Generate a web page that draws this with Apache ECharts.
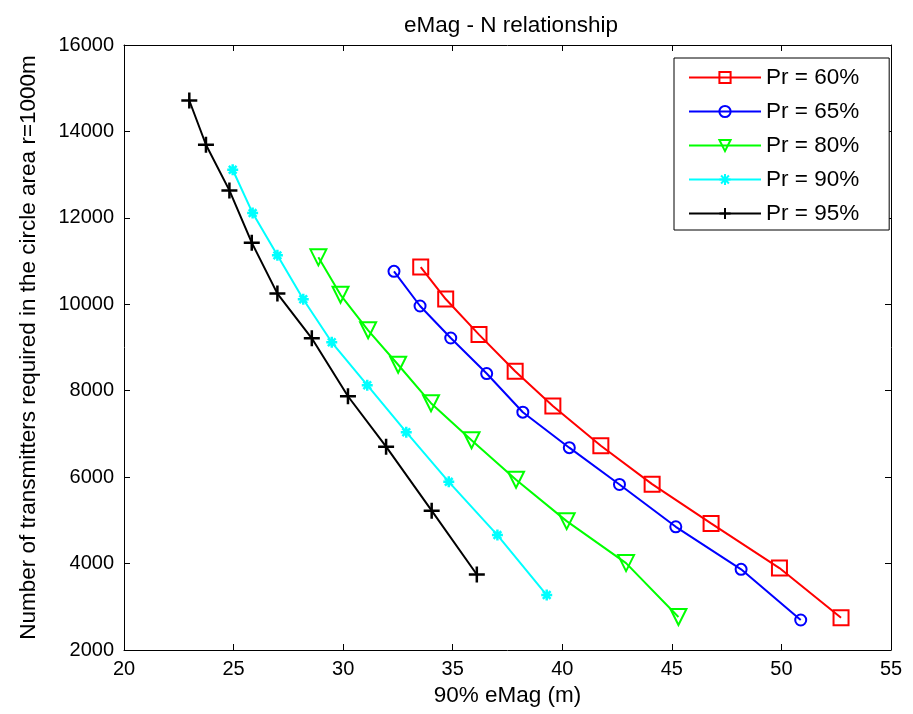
<!DOCTYPE html>
<html>
<head>
<meta charset="utf-8">
<script src="https://cdn.jsdelivr.net/npm/echarts@6/dist/echarts.min.js"></script>
<style>
html,body{margin:0;padding:0;background:#fff;}
#chart{width:913px;height:714px;}
</style>
</head>
<body>
<div id="chart"></div>
<script>
// Data
var seriesNames = ['Pr = 60%', 'Pr = 65%', 'Pr = 80%', 'Pr = 90%', 'Pr = 95%'];

var x60 = [33.54, 34.68, 36.20, 37.85, 39.57, 41.76, 44.10, 46.79, 49.91, 52.72];
var y60 = [10862, 10122, 9299, 8450, 7648, 6728, 5838, 4929, 3896, 2747];

var x65 = [32.32, 33.51, 34.91, 36.55, 38.20, 40.32, 42.61, 45.18, 48.16, 50.88];
var y65 = [10762, 9960, 9220, 8397, 7503, 6682, 5831, 4851, 3866, 2694];

var x80 = [28.87, 29.88, 31.14, 32.51, 34.01, 35.86, 37.89, 40.20, 42.91, 45.30];
var y80 = [11086, 10219, 9398, 8601, 7711, 6855, 5942, 4982, 4011, 2763];

var x90 = [24.96, 25.87, 27.00, 28.18, 29.48, 31.10, 32.88, 34.82, 37.04, 39.29];
var y90 = [13114, 12110, 11132, 10115, 9121, 8127, 7040, 5891, 4659, 3272];

var x95 = [22.98, 23.74, 24.81, 25.83, 27.00, 28.57, 30.22, 31.96, 34.04, 36.10];
var y95 = [14716, 13692, 12635, 11426, 10247, 9213, 7872, 6705, 5225, 3746];

var xTicks = [20, 25, 30, 35, 40, 45, 50, 55];
var yTicks = [2000, 4000, 6000, 8000, 10000, 12000, 14000, 16000];

function pairs(xs, ys) { return xs.map(function (v, i) { return [v, ys[i]]; }); }

var FONT = '"Liberation Sans", Arial, sans-serif';
var symPlus = 'path://M0,-10L0,10M-10,0L10,0';
var symStar = 'path://M0,-10L0,10M-10,0L10,0M-7,-7L7,7M-7,7L7,-7';
var symTriDown = 'path://M-10,-9L10,-9L0,9Z';

function mkSeries(name, data, color, symbol, size, bw) {
  return {
    name: name, type: 'line', data: data, xAxisIndex: 0, yAxisIndex: 0,
    symbol: symbol, symbolSize: size, showAllSymbol: true,
    color: color,
    lineStyle: { color: color, width: 2 },
    itemStyle: { color: 'rgba(0,0,0,0)', borderColor: color, borderWidth: bw },
    emphasis: { disabled: true },
    animation: false, z: 3
  };
}

var chart = echarts.init(document.getElementById('chart'), null, { renderer: 'canvas' });
var axisCommon = {
  type: 'value',
  axisLine: { show: true, onZero: false, lineStyle: { color: '#000', width: 1 } },
  axisTick: { show: true, inside: true, length: 6, lineStyle: { color: '#000' } },
  splitLine: { show: false }
};
chart.setOption({
  backgroundColor: '#fff',
  animation: false,
  title: {
    text: 'eMag - N relationship', left: 506, top: 9, textAlign: 'center',
    textStyle: { fontFamily: FONT, fontSize: 22.5, fontWeight: 'normal', color: '#000' }
  },
  grid: { left: 124, right: 22, top: 45, bottom: 64, containLabel: false, outerBoundsMode: 'none' },
  legend: {
    orient: 'vertical', left: 674, top: 58,
    data: seriesNames,
    itemWidth: 72, itemHeight: 14, itemGap: 11,
    padding: [8, 30, 5, 14],
    borderColor: '#000', borderWidth: 1, backgroundColor: '#fff',
    textStyle: { fontFamily: FONT, fontSize: 22.5, lineHeight: 20, color: '#000' },
    selectedMode: false
  },
  xAxis: [
    Object.assign({}, axisCommon, {
      min: 20, max: 55, interval: 5, position: 'bottom',
      name: '90% eMag (m)', nameLocation: 'middle', nameGap: 34,
      nameTextStyle: { fontFamily: FONT, fontSize: 22.5, color: '#000' },
      axisLabel: { fontFamily: FONT, fontSize: 20, color: '#000', margin: 9,
        formatter: function (v) { return String(v); } }
    }),
    Object.assign({}, axisCommon, {
      min: 20, max: 55, interval: 5, position: 'top',
      axisLabel: { show: false }
    })
  ],
  yAxis: [
    Object.assign({}, axisCommon, {
      min: 2000, max: 16000, interval: 2000, position: 'left',
      name: 'Number of transmitters required in the circle area r=1000m',
      nameLocation: 'middle', nameGap: 84,
      nameTextStyle: { fontFamily: FONT, fontSize: 22.5, color: '#000' },
      axisLabel: { fontFamily: FONT, fontSize: 20, color: '#000', margin: 10,
        formatter: function (v) { return String(v); } }
    }),
    Object.assign({}, axisCommon, {
      min: 2000, max: 16000, interval: 2000, position: 'right',
      axisLabel: { show: false }
    })
  ],
  series: [
    mkSeries(seriesNames[0], pairs(x60, y60), '#ff0000', 'rect', 15, 2),
    mkSeries(seriesNames[1], pairs(x65, y65), '#0000ff', 'circle', 11, 2),
    mkSeries(seriesNames[2], pairs(x80, y80), '#00ff00', symTriDown, 16, 2),
    mkSeries(seriesNames[3], pairs(x90, y90), '#00ffff', symStar, 11, 2.5),
    mkSeries(seriesNames[4], pairs(x95, y95), '#000000', symPlus, 16, 2.5)
  ]
});
</script>
</body>
</html>
